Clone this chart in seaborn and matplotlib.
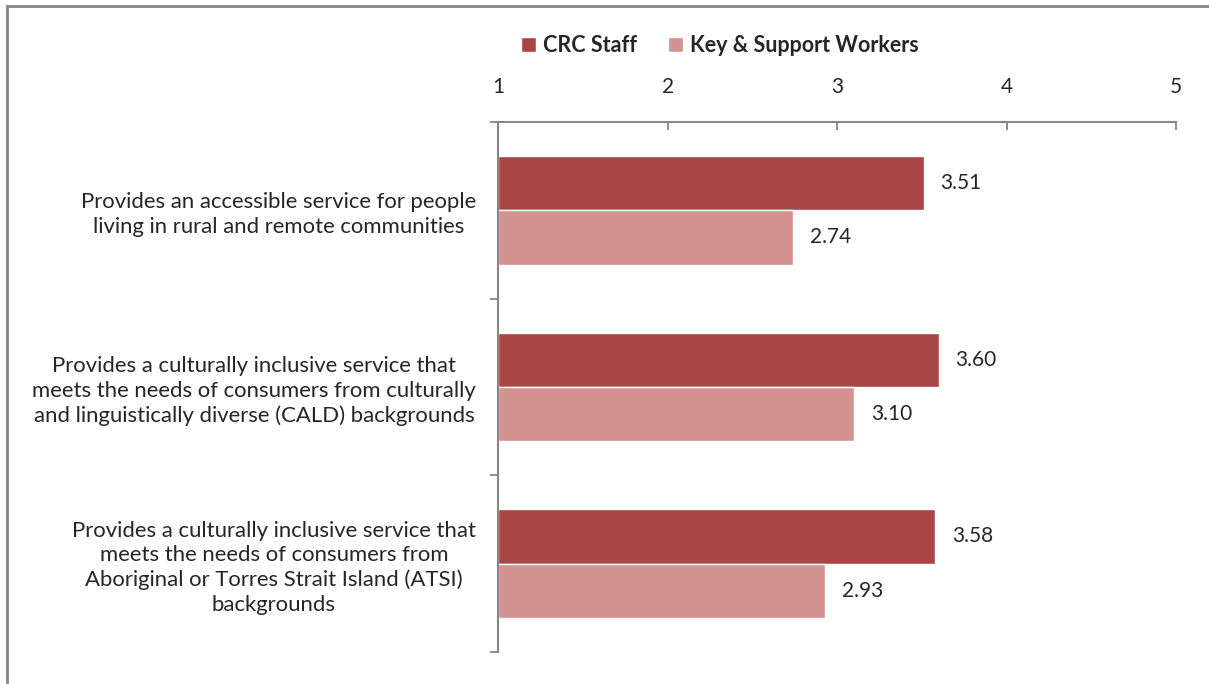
import matplotlib
matplotlib.use("Agg")
import matplotlib.pyplot as plt
import seaborn as sns
import pandas as pd
from matplotlib.patches import Rectangle

categories = [
    "Provides an accessible service for people\nliving in rural and remote communities",
    "Provides a culturally inclusive service that\nmeets the needs of consumers from culturally\nand linguistically diverse (CALD) backgrounds",
    "Provides a culturally inclusive service that\nmeets the needs of consumers from\nAboriginal or Torres Strait Island (ATSI)\nbackgrounds",
]
series = ["CRC Staff", "Key & Support Workers"]
crc_staff = [3.51, 3.60, 3.58]
key_support = [2.74, 3.10, 2.93]
x_ticks = [1, 2, 3, 4, 5]
colors = ["#A84646", "#D39391"]

sns.set_theme(style="white")
plt.rcParams["font.family"] = ["Lato", "DejaVu Sans"]

df = pd.DataFrame({
    "category": categories * 2,
    "series": [series[0]] * 3 + [series[1]] * 3,
    "value": crc_staff + key_support,
})

fig = plt.figure(figsize=(12.09, 6.84), dpi=100)
ax = fig.add_axes([0.412, 0.047, 0.5608, 0.7747])

sns.barplot(data=df, y="category", x="value", hue="series", order=categories,
            hue_order=series, palette=colors, orient="h", width=0.615,
            saturation=1, ax=ax, legend=True)

ax.set_xlim(1, 5)
ax.set_ylim(2.5, -0.5)
ax.set_xlabel("")
ax.set_ylabel("")

grey = "#868686"
for side in ["right", "bottom"]:
    ax.spines[side].set_visible(False)
for side in ["top", "left"]:
    ax.spines[side].set_color(grey)
    ax.spines[side].set_linewidth(1.5)

ax.xaxis.tick_top()
ax.set_xticks(x_ticks)
ax.set_xticklabels([str(t) for t in x_ticks], fontsize=15)
ax.tick_params(axis="x", direction="in", length=6, width=1.3, color=grey, pad=18)

ax.set_yticks(range(len(categories)))
ax.set_yticklabels(categories, fontsize=15.9, ha="right", multialignment="center",
                   linespacing=1.27)
ax.set_yticks([-0.5, 0.5, 1.5, 2.5], minor=True)
ax.tick_params(axis="y", which="major", length=0, pad=16)
ax.tick_params(axis="y", which="minor", direction="out", length=6, width=1.3, color=grey, left=True)

for container in ax.containers:
    ax.bar_label(container, fmt="%.2f", padding=12, fontsize=15)

# Bars start at the axis origin value 1
for patch in ax.patches:
    w = patch.get_width()
    if w > 0 and patch.get_x() == 0:
        patch.set_x(1)
        patch.set_width(w - 1)

leg = ax.legend(loc="lower center", bbox_to_anchor=(0.327, 1.087), ncol=2, frameon=False,
                handlelength=0.7, handleheight=0.7, handletextpad=0.3, columnspacing=1.45,
                prop={"weight": "bold", "size": 15.5})

fig.patches.append(Rectangle((0.0058, -0.1), 1.2, 1.0915, transform=fig.transFigure,
                             fill=False, edgecolor=grey, linewidth=2))

fig.savefig("out.png", dpi=100)
